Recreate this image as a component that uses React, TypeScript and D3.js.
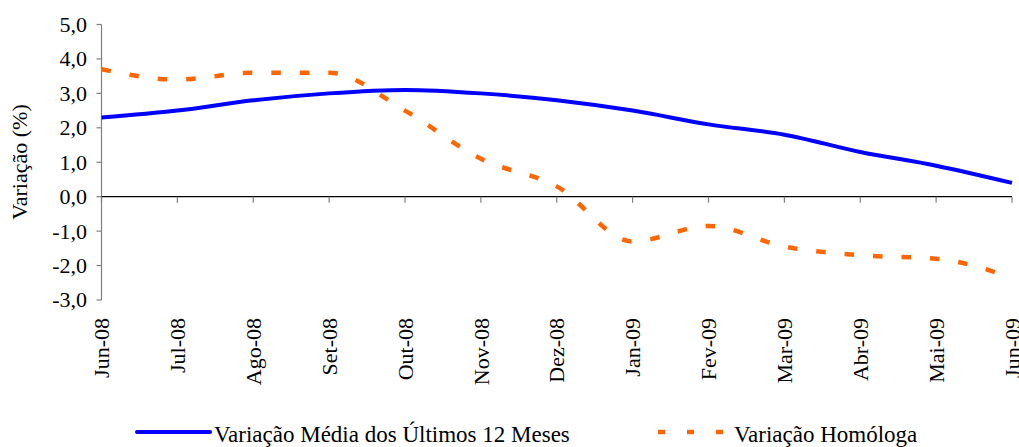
import React from "react";
import * as d3 from "d3";

const months = ["Jun-08", "Jul-08", "Ago-08", "Set-08", "Out-08", "Nov-08", "Dez-08", "Jan-09", "Fev-09", "Mar-09", "Abr-09", "Mai-09", "Jun-09"];
const mediaValues = [2.3, 2.5, 2.8, 3.0, 3.1, 3.0, 2.8, 2.5, 2.1, 1.8, 1.3, 0.9, 0.4];
const homologaValues = [3.7, 3.4, 3.6, 3.6, 2.5, 1.1, 0.3, -1.3, -0.85, -1.45, -1.7, -1.8, -2.35];
const yTicks = [5, 4, 3, 2, 1, 0, -1, -2, -3];
const seriesNames = ["Variação Média dos Últimos 12 Meses", "Variação Homóloga"];
const yTitle = "Variação (%)";

const FONT = "'Liberation Serif', 'Times New Roman', Tinos, 'Nimbus Roman', 'Noto Serif', 'DejaVu Serif', FreeSerif, Times, serif";
const txt = { fontFamily: FONT, fontSize: 22, fill: "#000" } as const;
const legendTxt = { fontFamily: FONT, fontSize: 23, fill: "#000" } as const;

export default function App() {
  const W = 1019, H = 447;
  const x = d3.scalePoint<string>().domain(months).range([101.5, 1012]);
  const y = d3.scaleLinear().domain([-3, 5]).range([300, 24.5]);
  const line = d3
    .line<number>()
    .x((_, i) => x(months[i]) as number)
    .y((d) => y(d))
    .curve(d3.curveMonotoneX);
  const fmt = (v: number) => v.toFixed(1).replace(".", ",");
  const axisX = 101.5;
  const zeroY = y(0);

  return (
    <svg width={W} height={H} style={{ position: "absolute", left: 0, top: 0, background: "#fff" }}>
      {/* y axis */}
      <line x1={axisX} x2={axisX} y1={y(5)} y2={y(-3)} stroke="#808080" strokeWidth={1.2} />
      {yTicks.map((t) => (
        <g key={t}>
          <line x1={axisX - 5} x2={axisX} y1={y(t)} y2={y(t)} stroke="#808080" strokeWidth={1.2} />
          <text x={87} y={y(t)} dy="0.34em" textAnchor="end" style={txt}>
            {fmt(t)}
          </text>
        </g>
      ))}
      {/* x axis at zero */}
      <line x1={axisX} x2={1012} y1={zeroY} y2={zeroY} stroke="#000" strokeWidth={1.2} />
      {months.map((m) => (
        <line key={m} x1={x(m)} x2={x(m)} y1={zeroY} y2={zeroY + 6} stroke="#808080" strokeWidth={1.2} />
      ))}
      {months.map((m) => (
        <text
          key={m}
          transform={`translate(${x(m)},318) rotate(-90)`}
          textAnchor="end"
          dy="0.35em"
          style={txt}
        >
          {m}
        </text>
      ))}
      {/* y title */}
      <text transform={`translate(19,162) rotate(-90)`} textAnchor="middle" dy="0.35em" style={txt}>
        {yTitle}
      </text>
      {/* series */}
      <path d={line(mediaValues) || ""} fill="none" stroke="#0000FF" strokeWidth={4} />
      <path d={line(homologaValues) || ""} fill="none" stroke="#FF6600" strokeWidth={4.5} strokeDasharray="9.5 19" />
      {/* legend */}
      <line x1={137} x2={210} y1={432} y2={432} stroke="#0000FF" strokeWidth={4} strokeLinecap="round" />
      <text x={214} y={442} style={legendTxt}>{seriesNames[0]}</text>
      <line x1={658} x2={724} y1={432} y2={432} stroke="#FF6600" strokeWidth={4.5} strokeDasharray="7 22" />
      <text x={734} y={442} style={legendTxt}>{seriesNames[1]}</text>
    </svg>
  );
}
